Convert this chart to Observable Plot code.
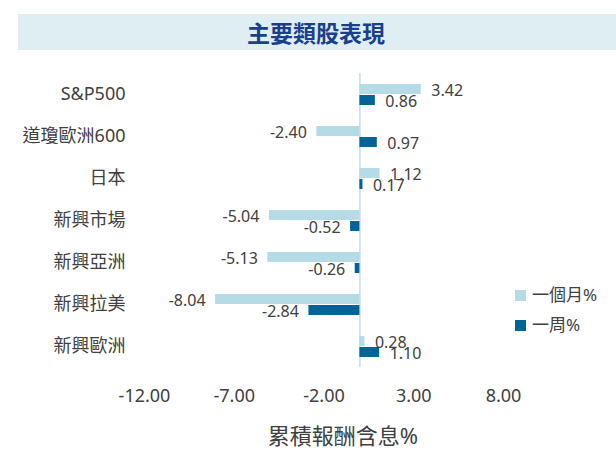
<!DOCTYPE html>
<html>
<head>
<meta charset="utf-8">
<script src="https://cdn.jsdelivr.net/npm/d3@7"></script>
<script src="https://cdn.jsdelivr.net/npm/@observablehq/plot@0.6"></script>
<style>
  html, body { margin: 0; padding: 0; background: #fff; }
  #wrap { position: relative; width: 616px; height: 461px; font-family: "Noto Sans", "Noto Sans CJK TC", sans-serif; color: #404040; }
  #title { position: absolute; left: 18px; top: 14px; width: 598px; height: 36px; background: #dfeef3; }
  #title div { width: 596px; text-align: center; line-height: 36px; font-size: 23px; font-weight: bold; color: #1a3f8c; font-family: "Noto Sans CJK TC", sans-serif; }
  .leg { position: absolute; left: 515px; font-size: 17px; line-height: 20px; white-space: nowrap; }
  .leg span.sw { position: absolute; left: 0; top: 4px; width: 11px; height: 11px; }
  .leg span.t { position: absolute; left: 17px; top: -1px; }
  #xtitle { position: absolute; left: 243px; width: 200px; text-align: center; top: 421px; font-size: 22px; line-height: 28px; }
  #chart { position: absolute; left: 0; top: 0; }
</style>
</head>
<body>
<div id="wrap">
  <div id="chart"></div>
  <div id="title"><div>主要類股表現</div></div>
  <div class="leg" style="top:286px"><span class="sw" style="background:#b5dbe6"></span><span class="t">一個月%</span></div>
  <div class="leg" style="top:316px"><span class="sw" style="background:#006496"></span><span class="t">一周%</span></div>
  <div id="xtitle">累積報酬含息%</div>
</div>
<script>
const categories = ["S&P500", "道瓊歐洲600", "日本", "新興市場", "新興亞洲", "新興拉美", "新興歐洲"];
const series = ["一個月%", "一周%"];
const month = [3.42, -2.40, 1.12, -5.04, -5.13, -8.04, 0.28];
const week = [0.86, 0.97, 0.17, -0.52, -0.26, -2.84, 1.10];
const xTicks = [-12, -7, -2, 3, 8];
const colors = ["#b5dbe6", "#006496"];

const data = categories.flatMap((c, i) => [
  {cat: c, s: series[0], v: month[i]},
  {cat: c, s: series[1], v: week[i]}
]);

const chart = Plot.plot({
  width: 616,
  height: 461,
  marginLeft: 144,
  marginRight: 113,
  marginTop: 72,
  marginBottom: 93,
  style: {fontFamily: '"Noto Sans", "Noto Sans CJK TC", sans-serif', fontSize: "18px", color: "#404040", background: "transparent"},
  x: {domain: [-12, 8], ticks: xTicks, tickFormat: d => d.toFixed(2), tickSize: 0, tickPadding: 22, label: null},
  y: {domain: series, axis: null, paddingInner: 0.05, paddingOuter: 0.9, align: 0.55},
  fy: {domain: categories, padding: 0, axis: "left", tickSize: 0, tickPadding: 19, label: null},
  color: {domain: series, range: colors},
  marks: [
    Plot.ruleX([0], {stroke: "#c6dcf2", strokeWidth: 1.5}),
    Plot.barX(data, {x: "v", y: "s", fy: "cat", fill: "s"}),
    Plot.text(data.filter(d => d.v >= 0), {x: "v", y: "s", fy: "cat", text: d => d.v.toFixed(2), textAnchor: "start", dx: 10, dy: 1, fontSize: 16, fill: "#404040"}),
    Plot.text(data.filter(d => d.v < 0), {x: "v", y: "s", fy: "cat", text: d => d.v.toFixed(2), textAnchor: "end", dx: -10, dy: 1, fontSize: 16, fill: "#404040"})
  ]
});
document.getElementById("chart").appendChild(chart);
</script>
</body>
</html>
